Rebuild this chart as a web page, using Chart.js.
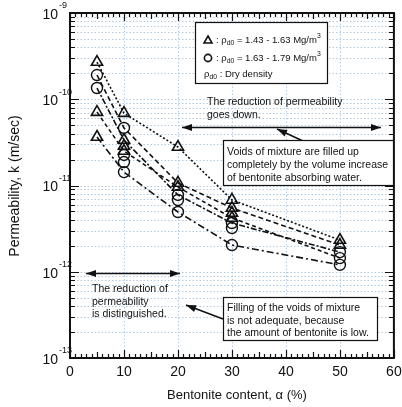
<!DOCTYPE html>
<html>
<head>
<meta charset="utf-8">
<script src="https://cdn.jsdelivr.net/npm/chart.js@4.4.1/dist/chart.umd.min.js"></script>
<style>
  html, body { margin: 0; padding: 0; background: #fff; }
  #wrap { width: 402px; height: 407px; }
</style>
</head>
<body>
<div id="wrap"><canvas id="chart" width="402" height="407"></canvas></div>
<script>
// axis ticks
const xTicks = [0, 10, 20, 30, 40, 50, 60];
const yDecades = [-13, -12, -11, -10, -9];

// bentonite contents used in the test series (%)
const contentPct = [5, 10, 20, 30, 50];

// measured permeability k (m/sec), rho_d0 = 1.43 - 1.63 Mg/m3
const triContent = [5, 5, 5, 10, 10, 10, 10, 20, 20, 20, 30, 30, 30, 30, 50, 50];
const triK = [2.7e-10, 7.1e-11, 3.65e-11, 6.9e-11, 3.37e-11, 2.87e-11, 2.51e-11,
  2.79e-11, 1.07e-11, 9.6e-12, 6.8e-12, 5.48e-12, 4.8e-12, 4.2e-12, 2.33e-12, 2.04e-12];

// measured permeability k (m/sec), rho_d0 = 1.63 - 1.79 Mg/m3
const circContent = [5, 5, 10, 10, 10, 10, 20, 20, 20, 30, 30, 30, 50, 50, 50];
const circK = [1.91e-10, 1.35e-10, 4.65e-11, 2.26e-11, 1.87e-11, 1.43e-11,
  7.77e-12, 6.79e-12, 4.93e-12, 3.67e-12, 3.21e-12, 2.04e-12, 1.69e-12, 1.44e-12, 1.2e-12];

// trend lines, one per series (values at contentPct)
const seriesA = [2.7e-10, 6.9e-11, 2.79e-11, 6.8e-12, 2.33e-12];
const seriesB = [1.91e-10, 4.65e-11, 1.07e-11, 5.48e-12, 2.04e-12];
const seriesC = [1.35e-10, 3.37e-11, 7.77e-12, 3.67e-12, 1.69e-12];
const seriesD = [7.1e-11, 2.51e-11, 9.6e-12, 4.2e-12, 1.44e-12];
const seriesE = [3.65e-11, 1.43e-11, 4.93e-12, 2.04e-12, 1.2e-12];

const FONT = '"Liberation Sans", Arial, sans-serif';
const INK = "#111";

function pts(xs, ys) {
  return xs.map((x, i) => ({ x, y: ys[i] }));
}

function trend(values, dash) {
  return {
    type: "line", data: pts(contentPct, values), showLine: true,
    borderColor: INK, borderWidth: 1.6, borderDash: dash,
    pointRadius: 0, fill: false, tension: 0,
  };
}

// text with sub/superscript runs: [text, "n" | "sub" | "sup"]
function rich(ctx, x, y, parts, size) {
  let cx = x;
  ctx.textAlign = "left";
  ctx.textBaseline = "middle";
  for (const [txt, kind] of parts) {
    const s = kind === "n" ? size : size * 0.72;
    const dy = kind === "sub" ? size * 0.32 : kind === "sup" ? -size * 0.45 : 0;
    ctx.font = `${s}px ${FONT}`;
    ctx.fillText(txt, cx, y + dy);
    cx += ctx.measureText(txt).width;
  }
  return cx;
}

function arrowHead(ctx, x0, y0, x1, y1) {
  const a = Math.atan2(y1 - y0, x1 - x0);
  const len = 10, hw = 3.6;
  ctx.beginPath();
  ctx.moveTo(x1, y1);
  ctx.lineTo(x1 - len * Math.cos(a) + hw * Math.sin(a), y1 - len * Math.sin(a) - hw * Math.cos(a));
  ctx.lineTo(x1 - len * Math.cos(a) - hw * Math.sin(a), y1 - len * Math.sin(a) + hw * Math.cos(a));
  ctx.closePath();
  ctx.fill();
}

function arrow(ctx, x0, y0, x1, y1, both) {
  ctx.beginPath();
  ctx.moveTo(x0, y0);
  ctx.lineTo(x1, y1);
  ctx.stroke();
  arrowHead(ctx, x0, y0, x1, y1);
  if (both) arrowHead(ctx, x1, y1, x0, y0);
}

function box(ctx, x, y, w, h) {
  ctx.fillStyle = "#fff";
  ctx.fillRect(x, y, w, h);
  ctx.strokeRect(x + 0.5, y + 0.5, w, h);
  ctx.fillStyle = INK;
}

const decor = {
  id: "decor",
  beforeDatasetsDraw(chart) {
    const { ctx, chartArea: a, scales: { x, y } } = chart;
    ctx.save();
    ctx.strokeStyle = "#b3cbe0";
    ctx.lineWidth = 1;
    ctx.setLineDash([1.5, 2]);
    for (let e = -13; e < -9; e++) {
      for (let m = 1; m <= 9; m++) {
        const py = Math.round(y.getPixelForValue(m * 10 ** e)) + 0.5;
        ctx.beginPath(); ctx.moveTo(a.left, py); ctx.lineTo(a.right, py); ctx.stroke();
      }
    }
    for (const t of xTicks.slice(1, -1)) {
      const px = Math.round(x.getPixelForValue(t)) + 0.5;
      ctx.beginPath(); ctx.moveTo(px, a.top); ctx.lineTo(px, a.bottom); ctx.stroke();
    }
    ctx.restore();
  },
  afterDatasetsDraw(chart) {
    const { ctx, chartArea: a, scales: { x, y } } = chart;
    ctx.save();
    ctx.strokeStyle = INK;
    ctx.fillStyle = INK;

    // inward ticks on all four sides
    ctx.lineWidth = 1.2;
    for (let t = 0; t <= 60; t++) {
      const px = Math.round(x.getPixelForValue(t)) + 0.5;
      const len = t % 10 === 0 ? 8 : t % 5 === 0 ? 6 : 4;
      ctx.beginPath();
      ctx.moveTo(px, a.bottom); ctx.lineTo(px, a.bottom - len);
      ctx.moveTo(px, a.top); ctx.lineTo(px, a.top + len);
      ctx.stroke();
    }
    for (let e = -13; e < -9; e++) {
      for (let m = 1; m <= 9; m++) {
        const py = Math.round(y.getPixelForValue(m * 10 ** e)) + 0.5;
        const len = m === 1 ? 9 : 5;
        ctx.beginPath();
        ctx.moveTo(a.left, py); ctx.lineTo(a.left + len, py);
        ctx.moveTo(a.right, py); ctx.lineTo(a.right - len, py);
        ctx.stroke();
      }
    }
    ctx.lineWidth = 2;
    ctx.strokeRect(a.left, a.top, a.right - a.left, a.bottom - a.top);

    // tick labels
    ctx.textBaseline = "middle";
    ctx.font = `14px ${FONT}`;
    ctx.textAlign = "center";
    for (const t of xTicks) ctx.fillText(String(t), x.getPixelForValue(t), 372);
    for (const e of yDecades) {
      const py = y.getPixelForValue(10 ** e);
      ctx.font = `14px ${FONT}`;
      ctx.textAlign = "right";
      ctx.fillText("10", 58, py + 2);
      ctx.font = `9px ${FONT}`;
      ctx.textAlign = "left";
      ctx.fillText(String(e), 59, py - 7);
    }

    // axis titles
    ctx.font = `13px ${FONT}`;
    ctx.textAlign = "center";
    ctx.fillText("Bentonite content, \u03b1 (%)", 237, 395);
    ctx.save();
    ctx.font = `14px ${FONT}`;
    ctx.translate(15, 186);
    ctx.rotate(-Math.PI / 2);
    ctx.fillText("Permeability, k (m/sec)", 0, 0);
    ctx.restore();

    // legend box
    ctx.lineWidth = 1.2;
    box(ctx, 195, 22, 132, 61);
    ctx.lineWidth = 1.6;
    ctx.beginPath();
    ctx.moveTo(208, 36); ctx.lineTo(212, 43); ctx.lineTo(204, 43); ctx.closePath();
    ctx.stroke();
    ctx.beginPath();
    ctx.arc(208, 58, 3.6, 0, Math.PI * 2);
    ctx.stroke();
    const fs = 9.5;
    rich(ctx, 216, 40, [[": \u03c1", "n"], ["d0", "sub"], [" = 1.43 - 1.63 Mg/m", "n"], ["3", "sup"]], fs);
    rich(ctx, 216, 58, [[": \u03c1", "n"], ["d0", "sub"], [" = 1.63 - 1.79 Mg/m", "n"], ["3", "sup"]], fs);
    rich(ctx, 204, 74, [["\u03c1", "n"], ["d0", "sub"], [" : Dry density", "n"]], fs);

    // upper annotation
    const ts = 10.5;
    rich(ctx, 207, 102, [["The reduction of permeability", "n"]], ts);
    rich(ctx, 207, 115, [["goes down.", "n"]], ts);
    ctx.lineWidth = 1.5;
    arrow(ctx, 182, 127.5, 381, 127.5, true);
    arrow(ctx, 303, 141, 277, 129, false);

    ctx.lineWidth = 1.2;
    box(ctx, 223, 140, 170, 45);
    rich(ctx, 227, 152, [["Voids of mixture are filled up", "n"]], ts);
    rich(ctx, 227, 165, [["completely by the volume increase", "n"]], ts);
    rich(ctx, 227, 178, [["of bentonite absorbing water.", "n"]], ts);

    // lower annotation
    ctx.lineWidth = 1.5;
    arrow(ctx, 86, 273.5, 180, 273.5, true);
    rich(ctx, 92, 289, [["The reduction of", "n"]], ts);
    rich(ctx, 92, 302, [["permeability", "n"]], ts);
    rich(ctx, 92, 314, [["is distinguished.", "n"]], ts);
    arrow(ctx, 223, 319, 186, 305, false);

    ctx.lineWidth = 1.2;
    box(ctx, 223, 297, 154, 43);
    rich(ctx, 227, 308, [["Filling of the voids of mixture", "n"]], ts);
    rich(ctx, 227, 321, [["is not adequate, because", "n"]], ts);
    rich(ctx, 227, 333, [["the amount of bentonite is low.", "n"]], ts);

    ctx.restore();
  },
};

new Chart(document.getElementById("chart"), {
  type: "scatter",
  data: {
    datasets: [
      trend(seriesA, [2, 2]),
      trend(seriesB, [5, 3]),
      trend(seriesC, [6, 2, 2, 2]),
      trend(seriesD, [4, 3]),
      trend(seriesE, [7, 3, 2, 3]),
      {
        data: pts(triContent, triK), pointStyle: "triangle", pointRadius: 6.5,
        borderColor: INK, backgroundColor: "rgba(0,0,0,0)", borderWidth: 1.6,
      },
      {
        data: pts(circContent, circK), pointStyle: "circle", pointRadius: 5.5,
        borderColor: INK, backgroundColor: "rgba(0,0,0,0)", borderWidth: 1.4,
      },
    ],
  },
  options: {
    responsive: false,
    devicePixelRatio: 1,
    animation: false,
    layout: { padding: { left: 70, top: 13, right: 6, bottom: 49 } },
    plugins: { legend: { display: false }, tooltip: { enabled: false } },
    scales: {
      x: { type: "linear", min: 0, max: 60, display: false },
      y: { type: "logarithmic", min: 1e-13, max: 1e-9, display: false },
    },
  },
  plugins: [decor],
});
</script>
</body>
</html>
